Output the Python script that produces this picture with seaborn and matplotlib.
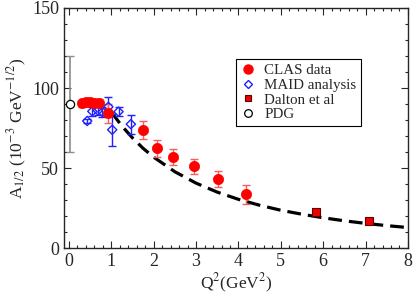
import matplotlib
matplotlib.use("Agg")
import matplotlib.pyplot as plt
from matplotlib.ticker import MultipleLocator
from matplotlib.lines import Line2D
import numpy as np
import pandas as pd
import seaborn as sns

# CLAS data
clas_q2 = [0.30, 0.40, 0.50, 0.60, 0.70, 0.93, 1.74, 2.07, 2.46, 2.94, 3.51, 4.17]
clas_a = [90.5, 91.5, 91.5, 91.0, 91.0, 84.3, 73.8, 62.5, 57.0, 51.2, 43.0, 33.7]
clas_err = [2.0, 2.0, 2.0, 2.0, 2.0, 6.0, 5.5, 5.2, 4.9, 4.8, 5.0, 6.0]

# MAID analysis
maid_q2 = [0.43, 0.55, 0.68, 0.79, 0.93, 1.02, 1.17, 1.46]
maid_a = [79.5, 85.5, 86.0, 85.0, 88.3, 74.0, 85.3, 77.5]
maid_err = [1.5, 3.0, 3.0, 3.0, 6.0, 10.0, 3.0, 6.0]

# Dalton et al
dalton_q2 = [5.83, 7.07]
dalton_a = [22.8, 17.4]

# PDG
pdg_q2 = [0.02]
pdg_a = [90.0]
pdg_err = [30.0]

# dashed curve
curve_q2 = [1.0, 1.25, 1.5, 1.75, 2.0, 2.5, 3.0, 3.5, 4.0, 4.5, 5.0, 5.5, 6.0, 6.5, 7.0, 7.5, 8.0]
curve_a = [85.0, 76.3, 68.9, 62.4, 56.9, 47.8, 40.7, 35.1, 30.6, 26.9, 23.8, 21.3, 19.1, 17.2, 15.6, 14.2, 13.0]

sns.set_style("ticks")
plt.rcParams['font.family'] = ['Liberation Serif', 'DejaVu Serif']
plt.rcParams['mathtext.fontset'] = 'stix'

fig = plt.figure(figsize=(4.15, 2.95), dpi=100)
ax = fig.add_axes([0.154, 0.158, 0.829, 0.815])

curve = pd.DataFrame({'q2': curve_q2, 'a': curve_a})
sns.lineplot(data=curve, x='q2', y='a', ax=ax, color='black', lw=2.3,
             zorder=2).lines[0].set_dashes([4.3, 2.2])

ax.errorbar(pdg_q2, pdg_a, yerr=pdg_err, fmt='none', ecolor='#8c8c8c',
            elinewidth=1.2, capsize=3, zorder=3)
ax.errorbar(maid_q2, maid_a, yerr=maid_err, fmt='none', ecolor='#2020ff',
            elinewidth=1.0, capsize=3, zorder=3)
ax.errorbar(clas_q2, clas_a, yerr=clas_err, fmt='none', ecolor='#f46060',
            elinewidth=1.0, capsize=3, zorder=3)

sns.scatterplot(x=maid_q2, y=maid_a, ax=ax, marker='D', s=22,
                facecolor='none', edgecolor='#2020ff', linewidth=1.0, zorder=4)
sns.scatterplot(x=clas_q2, y=clas_a, ax=ax, marker='o', s=55,
                color='#ff0000', edgecolor='#ff0000', linewidth=0.5, zorder=5)
sns.scatterplot(x=dalton_q2, y=dalton_a, ax=ax, marker='s', s=30,
                color='#ee0000', edgecolor='#600000', linewidth=0.8, zorder=5)
sns.scatterplot(x=pdg_q2, y=pdg_a, ax=ax, marker='o', s=35,
                facecolor='white', edgecolor='black', linewidth=0.9, zorder=7)

ax.set_xlim(-0.12, 8)
ax.set_ylim(0, 150)
ax.xaxis.set_major_locator(MultipleLocator(1))
ax.xaxis.set_minor_locator(MultipleLocator(0.2))
ax.yaxis.set_major_locator(MultipleLocator(50))
ax.yaxis.set_minor_locator(MultipleLocator(10))
ax.tick_params(which='both', direction='in', top=True, right=True, labelsize=13, width=0.8)
ax.tick_params(which='major', length=5)
ax.tick_params(which='minor', length=2.5)
for s in ax.spines.values():
    s.set_linewidth(1.0)

ax.set_xlabel(r'Q$^2$(GeV$^2$)', fontsize=12.5, labelpad=1)
ax.set_ylabel(r'A$_{1/2}$ (10$^{-3}$ GeV$^{-1/2}$)', fontsize=12.5, labelpad=2)

handles = [
    Line2D([], [], ls='none', marker='o', ms=6.5, color='#ff0000'),
    Line2D([], [], ls='none', marker='D', ms=4.5, mfc='none', mec='#2020ff', mew=1.0),
    Line2D([], [], ls='none', marker='s', ms=5, mfc='#ee0000', mec='#600000', mew=0.8),
    Line2D([], [], ls='none', marker='o', ms=5.5, mfc='white', mec='black', mew=0.9),
]
labels = ['CLAS data', 'MAID analysis', 'Dalton et al', 'PDG']
leg = ax.legend(handles, labels, loc='upper left', bbox_to_anchor=(0.5, 0.787),
                fontsize=10.8, frameon=True, fancybox=False, edgecolor='black',
                framealpha=1, handlelength=1.0, handletextpad=0.6,
                labelspacing=0.08, borderpad=0.3, borderaxespad=0)
leg.get_frame().set_linewidth(0.8)

fig.savefig('out.png', dpi=100)
